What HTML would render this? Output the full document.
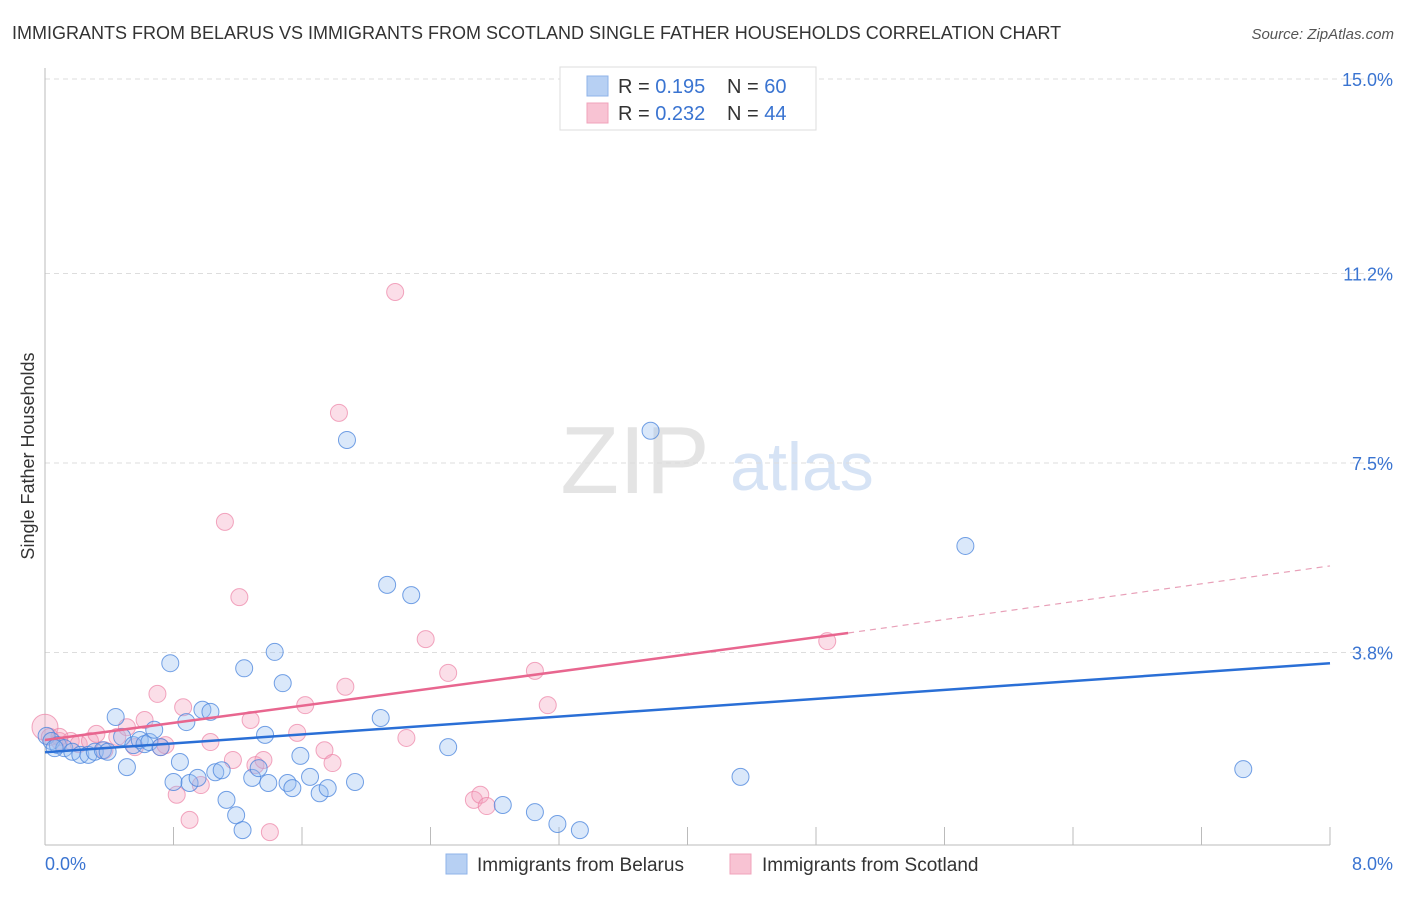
<!DOCTYPE html>
<html><head><meta charset="utf-8"><style>
body{margin:0;background:#fff;font-family:"Liberation Sans",sans-serif;}
svg text{font-family:"Liberation Sans",sans-serif;}
</style></head><body>
<svg width="1406" height="892" id="chart">
<text x="12" y="39" font-size="18" fill="#333">IMMIGRANTS FROM BELARUS VS IMMIGRANTS FROM SCOTLAND SINGLE FATHER HOUSEHOLDS CORRELATION CHART</text>
<text x="1394" y="39" font-size="15" fill="#555" font-style="italic" text-anchor="end">Source: ZipAtlas.com</text>
<text x="635" y="493" font-size="96" fill="#e4e4e4" font-family="Liberation Serif" text-anchor="middle">ZIP</text>
<text x="802" y="490" font-size="68" fill="#d6e3f5" text-anchor="middle">atlas</text>
<text transform="translate(34,456) rotate(-90)" font-size="18" fill="#333" text-anchor="middle">Single Father Households</text>
<g id="grid"></g><g id="marks"></g>
<g>
<rect x="560" y="67" width="256" height="63" fill="#fff" stroke="#ddd"/>
<rect x="587" y="76" width="21" height="20" fill="#b7d0f3" stroke="#8fb3e8"/>
<rect x="587" y="103" width="21" height="20" fill="#f8c3d3" stroke="#f0a3bb"/>
<text x="618" y="93" font-size="20" fill="#333">R = <tspan fill="#3a74d1">0.195</tspan></text>
<text x="727" y="93" font-size="20" fill="#333">N = <tspan fill="#3a74d1">60</tspan></text>
<text x="618" y="120" font-size="20" fill="#333">R = <tspan fill="#3a74d1">0.232</tspan></text>
<text x="727" y="120" font-size="20" fill="#333">N = <tspan fill="#3a74d1">44</tspan></text>
</g>
<g>
<rect x="446" y="854" width="21" height="20" fill="#b7d0f3" stroke="#8fb3e8"/>
<text x="477" y="871" font-size="19" fill="#333">Immigrants from Belarus</text>
<rect x="730" y="854" width="21" height="20" fill="#f8c3d3" stroke="#f0a3bb"/>
<text x="762" y="871" font-size="19" fill="#333">Immigrants from Scotland</text>
</g>
</svg>
<script>
const yTicks=[3.8,7.5,11.2,15.0];
const xTickLabels=["0.0%","8.0%"];
const belarusX=[0.01,0.04,0.08,0.12,0.17,0.22,0.27,0.31,0.36,0.39,0.44,0.48,0.51,0.55,0.59,0.62,0.65,0.68,0.72,0.78,0.80,0.84,0.88,0.90,0.95,0.98,1.03,1.06,1.10,1.13,1.19,1.23,1.24,1.29,1.33,1.37,1.39,1.43,1.48,1.51,1.54,1.59,1.65,1.71,1.76,1.88,1.93,2.09,2.13,2.28,2.51,2.85,3.05,3.19,3.33,3.77,4.33,5.73,7.46,0.06];
const belarusY=[2.17,2.07,1.99,1.93,1.86,1.80,1.80,1.86,1.89,1.86,2.54,2.15,1.56,1.99,2.09,2.01,2.05,2.29,1.95,3.59,1.27,1.66,2.44,1.25,1.35,2.68,2.64,1.46,1.50,0.92,0.62,0.33,3.49,1.35,1.54,2.19,1.25,3.81,3.20,1.25,1.15,1.78,1.37,1.05,1.15,7.95,1.27,2.52,5.12,4.92,1.95,0.82,0.68,0.45,0.33,8.13,1.37,5.88,1.52,1.93];
const scotlandX=[0.00,0.03,0.09,0.16,0.21,0.28,0.32,0.37,0.45,0.51,0.56,0.62,0.70,0.72,0.75,0.82,0.86,0.90,0.97,1.03,1.12,1.17,1.21,1.28,1.31,1.36,1.40,1.57,1.62,1.74,1.79,1.83,1.87,2.18,2.25,2.37,2.51,2.67,2.71,2.75,3.05,3.13,4.87,0.09];
const scotlandY=[2.34,2.15,2.07,2.07,2.01,2.07,2.21,1.89,2.15,2.34,1.95,2.48,2.99,1.95,1.99,1.02,2.73,0.53,1.21,2.05,6.35,1.70,4.88,2.48,1.60,1.70,0.29,2.23,2.77,1.89,1.64,8.48,3.13,10.84,2.13,4.06,3.40,0.92,1.02,0.80,3.44,2.77,4.02,2.15];
const belarusTrend=[1.85,3.59];
const scotlandTrend=[2.09,4.18,5.49];
const NS="http://www.w3.org/2000/svg";
const X0=45,X1=1330,Y0=847,PPU=51.2;
const xs=v=>X0+v/8*(X1-X0), ys=v=>Y0-v*PPU;
function el(t,a,p){const e=document.createElementNS(NS,t);for(const k in a)e.setAttribute(k,a[k]);p.appendChild(e);return e;}
const grid=document.getElementById('grid'),marks=document.getElementById('marks');
yTicks.forEach(t=>{
 const l=el('line',{x1:45,x2:1395,y1:ys(t),y2:ys(t),stroke:'#ddd','stroke-dasharray':'5,4'},grid);
 
 
 const tx=el('text',{x:1393,y:ys(t)+7,'font-size':18,fill:'#3a74d1','text-anchor':'end'},grid);
 tx.textContent=t.toFixed(1)+'%';
 
 
});
el('line',{x1:45,x2:45,y1:68,y2:845,stroke:'#bbb'},grid);
el('line',{x1:45,x2:1330,y1:845,y2:845,stroke:'#bbb'},grid);
for(let i=1;i<=10;i++){el('line',{x1:xs(i*0.8),x2:xs(i*0.8),y1:827,y2:845,stroke:'#bbb'},grid);}
xTickLabels.forEach((s,i)=>{
 const tx=el('text',{x:i?1393:45,y:870,'font-size':18,fill:'#3a74d1','text-anchor':i?'end':'start'},grid);
 tx.textContent=s;
 
 
});
scotlandX.forEach((v,i)=>{
 const c=el('circle',{cx:xs(v),cy:ys(scotlandY[i]),r:i==0?13:8.5,fill:'rgba(244,160,188,0.35)',stroke:'rgba(236,130,165,0.7)','stroke-width':1},marks);
 
 
});
belarusX.forEach((v,i)=>{
 const c=el('circle',{cx:xs(v),cy:ys(belarusY[i]),r:8.5,fill:'rgba(150,190,240,0.35)',stroke:'rgba(70,130,220,0.75)','stroke-width':1},marks);
 
 
});
const bl=el('line',{x1:xs(0),y1:ys(belarusTrend[0]),x2:xs(8),y2:ys(belarusTrend[1]),stroke:'#2a6fd6','stroke-width':2.5},marks);


const sl=el('line',{x1:xs(0),y1:ys(scotlandTrend[0]),x2:xs(5),y2:ys(scotlandTrend[1]),stroke:'#e8668f','stroke-width':2.5},marks);


const sd=el('line',{x1:xs(5),y1:ys(scotlandTrend[1]),x2:xs(8),y2:ys(scotlandTrend[2]),stroke:'#e8a0b8','stroke-width':1.2,'stroke-dasharray':'6,5'},marks);


</script>
</body></html>
